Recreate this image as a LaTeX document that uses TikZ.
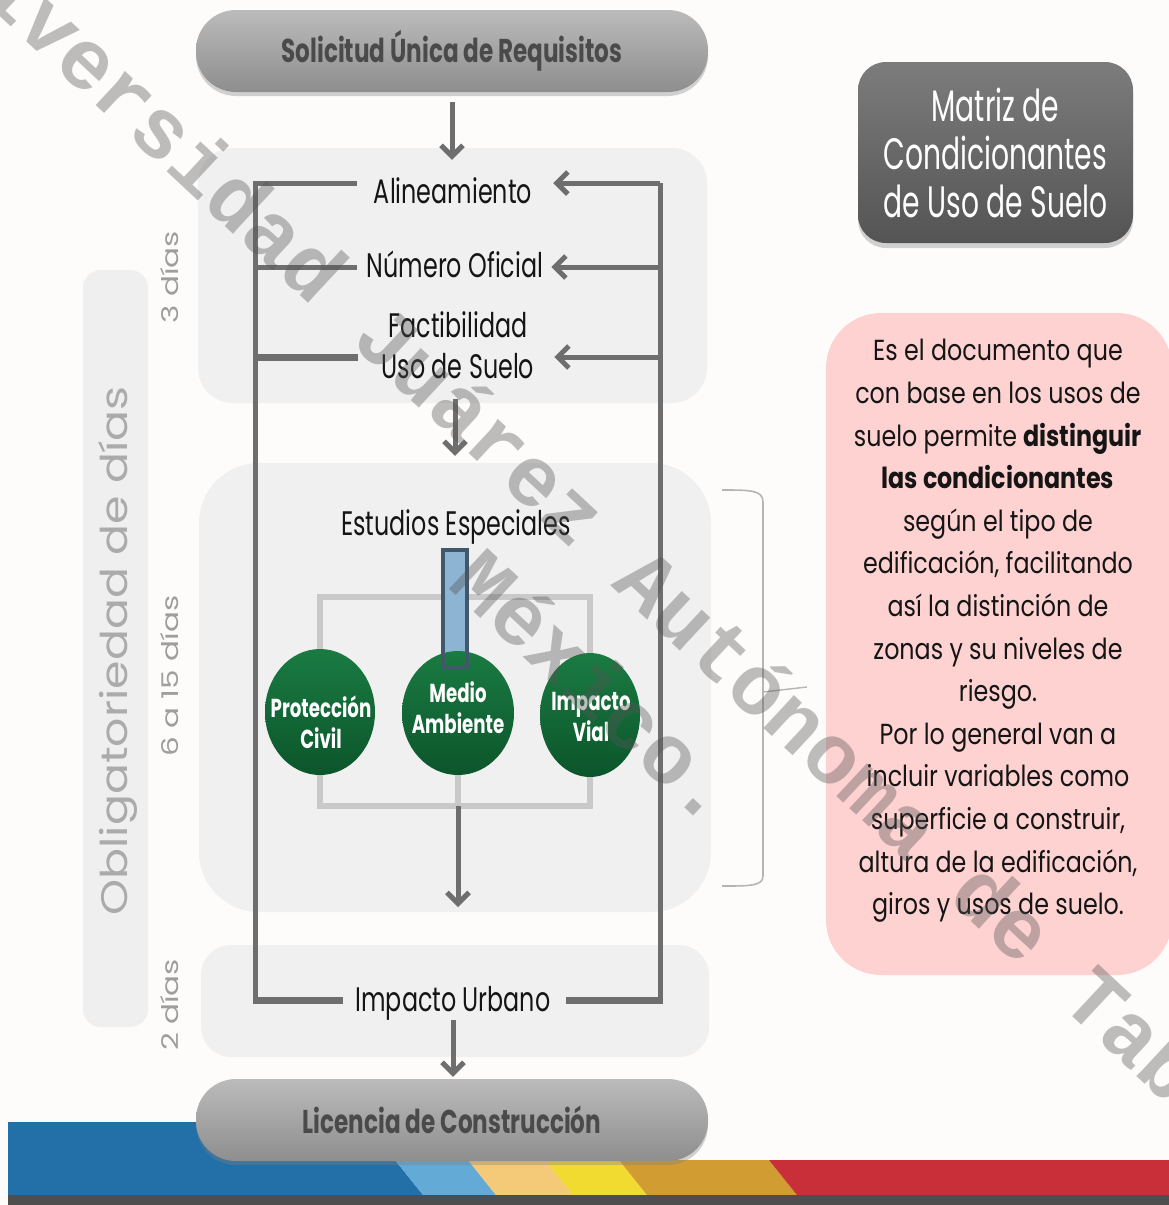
\documentclass[tikz,border=0pt]{standalone}
\usepackage{fontspec}
\setmainfont{Poppins}[FakeStretch=0.7]
\newfontfamily\pinkfont{Poppins}[FakeStretch=0.82]
\newfontfamily\matfont{Poppins}[FakeStretch=0.64]
\newfontfamily\rotfont{Poppins}[FakeStretch=1.35]
\newfontfamily\obfont{Poppins}[FakeStretch=1.24]
\newfontfamily\wmfont{Liberation Mono}
\usetikzlibrary{arrows.meta,shapes.geometric,shadows}
\definecolor{bgc}{HTML}{FDFCFB}
\definecolor{panel}{HTML}{F0F0F1}
\definecolor{linec}{HTML}{6E6E6E}
\definecolor{txtc}{HTML}{151515}
\definecolor{pilltop}{HTML}{BBBBBB}
\definecolor{pillbot}{HTML}{8E8E8E}
\definecolor{pilltext}{HTML}{4A4A4A}
\definecolor{mattop}{HTML}{7C7C7C}
\definecolor{matbot}{HTML}{545454}
\definecolor{pinkc}{HTML}{FFD2D2}
\definecolor{gtop}{HTML}{1A7B42}
\definecolor{gbot}{HTML}{0C552B}
\definecolor{framec}{HTML}{C9C9C9}
\definecolor{bluef}{HTML}{8DB4D2}
\definecolor{blueb}{HTML}{43576A}
\definecolor{sidec}{HTML}{9E9E9E}
\definecolor{obtext}{HTML}{ABABAB}
\definecolor{obpanel}{HTML}{EFEFEF}
\definecolor{bandblue}{HTML}{2370A8}
\definecolor{bandlb}{HTML}{63AAD6}
\definecolor{bandor}{HTML}{F4CA78}
\definecolor{bandye}{HTML}{F1DB30}
\definecolor{bandmu}{HTML}{D19C32}
\definecolor{bandred}{HTML}{C92F39}
\definecolor{banddk}{HTML}{4E4E4E}
\definecolor{bracec}{HTML}{B5B5B5}
\definecolor{wmc}{HTML}{555555}
\pgfdeclarelayer{back}
\pgfdeclarelayer{mid}
\pgfdeclarelayer{front}
\pgfsetlayers{back,mid,main,front}
\begin{document}
\begin{tikzpicture}[x=1pt,y=-1pt,
  lbl/.style={font=\fontsize{34}{41}\selectfont, text=txtc, inner sep=0pt, align=center},
  pillbox/.style={rounded corners=40pt, minimum width=512pt, minimum height=82pt,
    top color=pilltop, bottom color=pillbot, draw=none, text=pilltext,
    font=\fontsize{33}{40}\selectfont\bfseries,
    drop shadow={opacity=0.35, shadow xshift=0pt, shadow yshift=-4pt}},
  panelbox/.style={fill=panel, draw=none, inner sep=0pt},
  conn/.style={draw=linec, line width=5pt, line join=miter},
  arr/.style={conn, -{Straight Barb[length=11pt,width=22pt]}},
  frameln/.style={draw=framec, line width=6pt},
  gcirc/.style={ellipse, top color=gtop, bottom color=gbot, draw=none, inner sep=0pt},
  circtxt/.style={inner sep=0pt, text=white, font=\fontsize{26}{31}\selectfont\bfseries, align=center},
  sidelbl/.style={rotate=90, text=sidec, font=\rotfont\fontsize{23}{28}\selectfont, inner sep=0pt},
  wm/.style={rotate=-43, text=wmc, text opacity=0.38, align=center,
    font=\wmfont\bfseries\fontsize{85}{112}\selectfont, inner sep=0pt}
]
\useasboundingbox (0,0) rectangle (1169,1205);
\begin{pgfonlayer}{back}
  \fill[bgc] (0,0) rectangle (1169,1205);
  \fill[bandblue] (8,1122) -- (440,1122) -- (440,1160) -- (395,1160) -- (423,1195) -- (8,1195) -- cycle;
  \fill[bandlb] (395,1160) -- (468,1160) -- (496,1195) -- (423,1195) -- cycle;
  \fill[bandor] (468,1160) -- (545,1160) -- (573,1195) -- (496,1195) -- cycle;
  \fill[bandye] (545,1160) -- (619,1160) -- (647,1195) -- (573,1195) -- cycle;
  \fill[bandmu] (619,1160) -- (769,1160) -- (797,1195) -- (647,1195) -- cycle;
  \fill[bandred] (769,1160) -- (1169,1160) -- (1169,1195) -- (797,1195) -- cycle;
  \fill[banddk] (8,1195) rectangle (1169,1205);
  \node[panelbox, rounded corners=35pt, minimum width=509pt, minimum height=255pt] (p1) at (452.5,275.5) {};
  \node[panelbox, rounded corners=60pt, minimum width=512pt, minimum height=449pt] (p2) at (455,687.5) {};
  \node[panelbox, rounded corners=30pt, minimum width=508pt, minimum height=112pt] (p3) at (455,1001) {};
  \node[fill=obpanel, draw=none, rounded corners=18pt, minimum width=65pt, minimum height=757pt, inner sep=0pt] (obp) at (115.5,648.5) {};
\end{pgfonlayer}

% left labels
\node[rotate=90, text=obtext, font=\obfont\fontsize{37}{44}\selectfont, inner sep=0pt] (obl) at (118,651) {Obligatoriedad de días};
\node[sidelbl] (d3) at (170,277) {3 días};
\node[sidelbl] (d615) at (170,676) {6 a 15 días};
\node[sidelbl] (d2) at (170,1005) {2 días};

% pills
\node[pillbox] (sur) at (452,51) {Solicitud Única de Requisitos};
\node[pillbox] (lic) at (452,1120) {Licencia de Construcción};

% step labels
\node[lbl, anchor=base] (alin) at (453,203) {Alineamiento};
\node[lbl, anchor=base] (numof) at (455,277) {Número Oficial};
\node[lbl] (fact) at (458,345) {Factibilidad\\Uso de Suelo};
\node[lbl, anchor=base] (estud) at (456,535) {Estudios Especiales};
\node[lbl, anchor=base] (impur) at (453,1011) {Impacto Urbano};

% circles
\node[gcirc, minimum width=110pt, minimum height=126pt] (pc) at (320,712) {};
\node[gcirc, minimum width=112pt, minimum height=124pt] (ma) at (458,713) {};
\node[gcirc, minimum width=100pt, minimum height=124pt] (iv) at (590,715) {};
\node[circtxt] (pct) at (321,722) {Protección\\Civil};
\node[circtxt] (mat2) at (458,708) {Medio\\Ambiente};
\node[circtxt] (ivt) at (591,717) {Impacto\\Vial};
\draw[blueb, line width=4pt] (443,550) rectangle (467,667);

% right side boxes
\node[rounded corners=28pt, minimum width=275pt, minimum height=181pt, top color=mattop, bottom color=matbot,
  draw=none, text=white, align=center, font=\matfont\fontsize{44}{48}\selectfont,
  drop shadow={opacity=0.35, shadow xshift=0pt, shadow yshift=-5pt}] (mat) at (995.5,152.5)
  {Matriz de\\Condicionantes\\de Uso de Suelo};
\node[fill=pinkc, draw=none, rounded corners=55pt, minimum width=346pt, minimum height=662pt] (pinkbox) at (999,644) {};
\node[align=center, text=txtc, font=\pinkfont\fontsize{29}{42.6}\selectfont, inner sep=0pt] (pinktxt) at (998,631)
  {Es el documento que\\con base en los usos de\\suelo permite \textbf{distinguir}\\\textbf{las condicionantes}\\según el tipo de\\edificación, facilitando\\así la distinción de\\zonas y su niveles de\\riesgo.\\Por lo general van a\\incluir variables como\\superficie a construir,\\altura de la edificación,\\giros y usos de suelo.};

% connectors
\coordinate (Ltop) at (255,183);
\coordinate (Lbot) at (255,1000);
\coordinate (Rtop) at (660,183);
\coordinate (Rbot) at (660,1000);
\coordinate (L2) at (255,267);
\coordinate (L3) at (255,357);
\coordinate (R2) at (660,267);
\coordinate (R3) at (660,357);
\coordinate (ftop) at (458,597);
\coordinate (fbot) at (458,806);
\coordinate (fend) at (458,907);
\begin{pgfonlayer}{mid}
  \draw[conn, shorten <=17pt] (Ltop -| alin.west) -- (Ltop) -- (Lbot);
  \draw[conn] (Rbot) -- (Rtop);
  \draw[conn, line width=7pt, shorten >=12pt] (Lbot) ++(-2.5,0) -- (Lbot -| impur.west);
  \draw[conn, line width=7pt, shorten >=15pt] (Rbot) ++(2.5,0) -- (Rbot -| impur.east);
  \draw[arr, shorten >=21pt] (Rtop) -- (Rtop -| alin.east);
  \draw[conn, shorten >=10pt] (L2) -- (L2 -| numof.west);
  \draw[arr, shorten >=8pt] (R2) -- (R2 -| numof.east);
  \draw[conn, line width=7pt] (L3) -- (358,357);
  \draw[arr, shorten >=20pt] (R3) -- (R3 -| fact.east);
  \draw[arr, shorten <=10pt, shorten >=-12pt] (sur.south) -- (sur.south |- p1.north);
  \draw[arr, shorten <=20pt, shorten >=7pt] (fact.south -| p2.north) -- (p2.north);
  \draw[arr, shorten >=2pt] (impur.south) -- (impur.south |- lic.north);
  \draw[frameln] (pc.center) |- (ftop) -| (iv.center);
  \draw[frameln] (pc.center) |- (fbot) -| (iv.center);
  \draw[frameln] (ma.center) -- (fbot);
  \draw[arr] (fbot) -- (fend);
  \fill[bluef] (443,550) rectangle (467,667);
  \draw[bracec, line width=1.6pt] (722,490) .. controls (750,490) and (763,490) .. (763,502) -- (763,876) .. controls (763,886) and (750,886) .. (722,886);
  \draw[bracec, line width=1.4pt] (763,692) -- (807,687);
\end{pgfonlayer}

\begin{pgfonlayer}{front}
  \node[wm] (wmk) at (612,622) {Universidad Juárez Autónoma de Tabasco.\\\hspace*{0.78em}México.};
\end{pgfonlayer}
\end{tikzpicture}
\end{document}
